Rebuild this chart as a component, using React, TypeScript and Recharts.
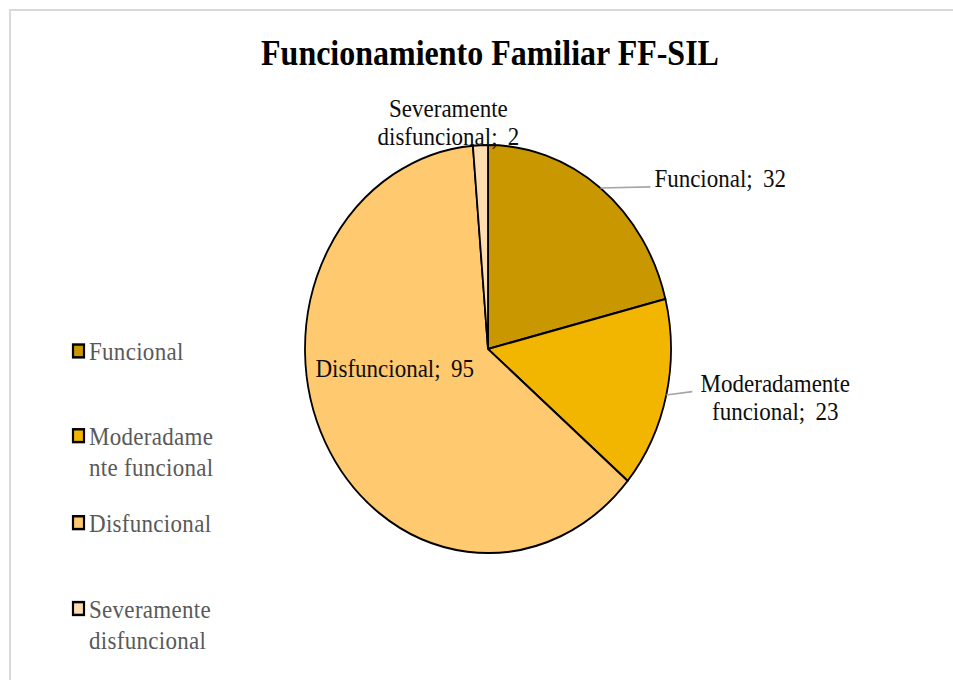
import { PieChart, Pie, Cell, Legend } from "recharts";

const categories = ["Funcional", "Moderadamente funcional", "Disfuncional", "Severamente disfuncional"];
const counts = [32, 23, 95, 2];
const sliceColors = ["#C99700", "#F2B500", "#FFC970", "#FFDDB0"];
// legend wraps the way Excel did it
const legendLines = [["Funcional"], ["Moderadame", "nte funcional"], ["Disfuncional"], ["Severamente", "disfuncional"]];

const chartData = categories.map((name, i) => ({ name, value: counts[i] }));

const STRETCH = 1.115; // original picture is stretched vertically
const FONT = "'Liberation Serif', 'Times New Roman', serif";
const RADIAN = Math.PI / 180;

function labelText(name: string, value: number) {
  const sp = name.indexOf(" ");
  if (sp < 0) return [`${name}; \u2009${value}`];
  return [name.slice(0, sp), `${name.slice(sp + 1)}; \u2009${value}`];
}

function renderLabel(props: any) {
  const { cx, cy, midAngle, outerRadius, index, name, value } = props;
  const ex = cx + outerRadius * Math.cos(-midAngle * RADIAN);
  const ey = cy + outerRadius * Math.sin(-midAngle * RADIAN);
  const lines = labelText(name, value);
  const txt = { fontFamily: FONT, fontSize: 23, fill: "#0d0d0d" };

  if (index === 0) {
    return (
      <g key={`l${index}`}>
        <line x1={ex} y1={ey} x2={ex + 50} y2={ey - 1} stroke="#a6a6a6" strokeWidth={1.5} />
        <text x={ex + 54} y={ey - 1} textAnchor="start" {...txt}>{lines[0]}</text>
      </g>
    );
  }
  if (index === 1) {
    return (
      <g key={`l${index}`}>
        <line x1={ex} y1={ey} x2={ex + 26} y2={ey - 3} stroke="#a6a6a6" strokeWidth={1.5} />
        <text x={ex + 109} y={ey - 2.5} textAnchor="middle" {...txt}>{lines[0]}</text>
        <text x={ex + 109} y={ey + 22.5} textAnchor="middle" {...txt}>{lines[1]}</text>
      </g>
    );
  }
  if (index === 2) {
    const a = (midAngle - 15.7) * RADIAN;
    const r = outerRadius * 0.52;
    const x = cx + r * Math.cos(-a);
    const y = cy + r * Math.sin(-a);
    return (
      <text key={`l${index}`} x={x} y={y + 6} textAnchor="middle" {...txt}>{lines[0]}</text>
    );
  }
  return (
    <g key={`l${index}`}>
      <text x={ex - 32} y={ey - 25} textAnchor="middle" {...txt}>{lines[0]}</text>
      <text x={ex - 32} y={ey} textAnchor="middle" {...txt}>{lines[1]}</text>
    </g>
  );
}

const legendRows = [323, 399, 477, 554];

function renderLegend(props: any) {
  const payload = props.payload || [];
  return (
    <svg width={260} height={610} style={{ display: "block" }}>
      {payload.map((entry: any, i: number) => {
        const base = legendRows[i];
        return (
          <g key={i}>
            <rect x={73} y={base - 14} width={11} height={11.5} fill={sliceColors[i] || entry.color} stroke="#000" strokeWidth={2.2} />
            {legendLines[i].map((ln, j) => (
              <text key={j} x={89} y={base + j * 28} fontFamily={FONT} fontSize={23} fill="#595959" letterSpacing={0.3}>{ln}</text>
            ))}
          </g>
        );
      })}
    </svg>
  );
}

export default function App() {
  return (
    <div style={{ position: "fixed", left: 0, top: 0, width: 953, height: 680, overflow: "hidden", background: "#fff" }}>
      <div style={{ position: "absolute", left: 9, top: 9, width: 980, height: 720, border: "2.5px solid #d9d9d9" }} />
      <div style={{ position: "absolute", left: 0, top: 0, width: 953, height: 610, transform: `scaleY(${STRETCH})`, transformOrigin: "0 0" }}>
        <svg width={953} height={80} style={{ position: "absolute", left: 0, top: 0 }}>
          <text x={490} y={58} textAnchor="middle" fontFamily={FONT} fontWeight="bold" fontSize={32} fill="#000">
            Funcionamiento Familiar FF-SIL
          </text>
        </svg>
        <div style={{ position: "absolute", left: 0, top: 0 }}>
          <PieChart width={953} height={610} margin={{ top: 0, right: 0, bottom: 0, left: 0 }}>
            <Pie
              data={chartData}
              dataKey="value"
              nameKey="name"
              cx={488}
              cy={313}
              outerRadius={183}
              startAngle={90}
              endAngle={-270}
              stroke="#000"
              strokeWidth={1.8}
              label={renderLabel}
              labelLine={false}
              isAnimationActive={false}
            >
              {chartData.map((_, i) => (
                <Cell key={i} fill={sliceColors[i]} />
              ))}
            </Pie>
            <Legend
              layout="vertical"
              align="center"
              verticalAlign="middle"
              content={renderLegend}
              wrapperStyle={{ position: "absolute", left: 0, top: 0, width: 260, height: 610 }}
            />
          </PieChart>
        </div>
      </div>
    </div>
  );
}
